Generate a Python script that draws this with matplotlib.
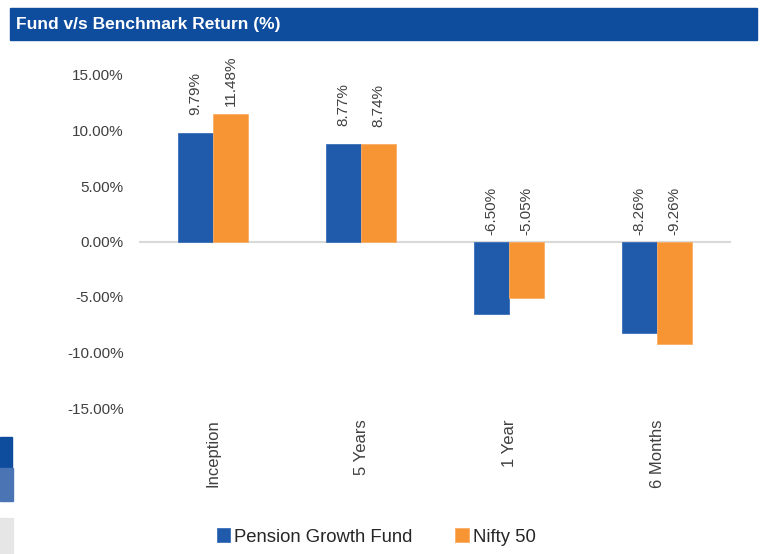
import matplotlib.pyplot as plt
import numpy as np
from matplotlib.patches import Rectangle

plt.rcParams["font.family"] = ["Liberation Sans", "DejaVu Sans"]

categories = ["Inception", "5 Years", "1 Year", "6 Months"]
fund = [9.79, 8.77, -6.50, -8.26]
nifty = [11.48, 8.74, -5.05, -9.26]
series_names = ["Pension Growth Fund", "Nifty 50"]
yticks = [-15, -10, -5, 0, 5, 10, 15]

BLUE = "#1F5BAA"
ORANGE = "#F79433"
TEXT = "#404040"

W, H = 767, 554
fig = plt.figure(figsize=(W / 100, H / 100), dpi=100)

# title bar
fig.patches.append(Rectangle((10 / W, 1 - 40 / H), 747 / W, 32 / H,
                             transform=fig.transFigure, color="#0E4C9E", zorder=0))
fig.text(16 / W, 1 - 24 / H, "Fund v/s Benchmark Return (%)", color="white",
         fontsize=12.5, fontweight="bold", va="center", ha="left")

# fragments on the left edge
fig.patches.append(Rectangle((0, 1 - 468 / H), 12 / W, 31 / H,
                             transform=fig.transFigure, color="#0E4C9E"))
fig.patches.append(Rectangle((0, 1 - 501 / H), 13 / W, 33 / H,
                             transform=fig.transFigure, color="#4A74B4"))
fig.patches.append(Rectangle((0, 0), 13 / W, 36 / H,
                             transform=fig.transFigure, color="#E6E6E6"))

ax = fig.add_axes([139 / W, (H - 408) / H, 592 / W, 333 / H])
x = np.arange(len(categories))
bw = 0.236
ax.bar(x - bw / 2, fund, bw, color=BLUE, edgecolor="#3A70B8", linewidth=0.6,
       label=series_names[0], zorder=2)
ax.bar(x + bw / 2, nifty, bw, color=ORANGE, edgecolor="#F9AE66", linewidth=0.6,
       label=series_names[1], zorder=2)

labels = []
for xs, vals in [(x - bw / 2, fund), (x + bw / 2, nifty)]:
    for xi, v in zip(xs, vals):
        base = v + 1.6 if v > 0 else 0.6
        t = ax.text(xi, base, f"{v:.2f}%", rotation=90, ha="center", va="bottom",
                    fontsize=11, color=TEXT)
        labels.append((t, v))

ax.axhline(0, color="#D9D9D9", linewidth=1.5, zorder=1)
ax.set_xlim(-0.5, len(categories) - 0.5)
ax.set_ylim(-15, 15)
ax.set_yticks(yticks)
ax.set_yticklabels([f"{t:.2f}%" for t in yticks], fontsize=11, color=TEXT)
ax.set_xticks(x)
ax.set_xticklabels(categories, rotation=90, fontsize=12, color=TEXT)
ax.tick_params(length=0, pad=11)
ax.tick_params(axis="x", pad=8)
for s in ax.spines.values():
    s.set_visible(False)

# keep value labels inside the plot area (top near y=55px)
fig.canvas.draw()
r = fig.canvas.get_renderer()
limit = H - 55
for t, v in labels:
    bb = t.get_window_extent(r)
    if bb.y1 > limit:
        shift = bb.y1 - limit
        xd, yd = ax.transData.transform(t.get_position())
        t.set_position(ax.transData.inverted().transform((xd, yd - shift)))

fig.legend(loc="center", bbox_to_anchor=(376 / W, 1 - 537 / H), ncol=2,
           frameon=False, fontsize=13.3, handlelength=0.75, handleheight=0.75,
           handletextpad=0.2, columnspacing=2.3, labelcolor="#262626")

fig.savefig("out.png", dpi=100)
